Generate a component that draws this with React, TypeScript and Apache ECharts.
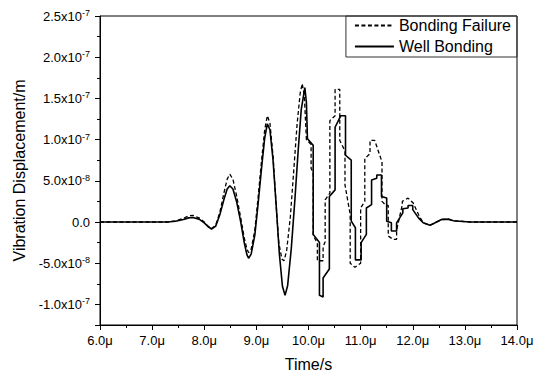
import React, { useEffect, useRef } from 'react';
import * as echarts from 'echarts';

// Values are in units of 1e-8 m; time in microseconds
const UNIT = 1e-8;

const seriesNames = ['Bonding Failure', 'Well Bonding'];

const wellTime = [
  6.0, 7.3, 7.45, 7.6, 7.7, 7.78, 7.9, 8.0, 8.07, 8.14, 8.22, 8.3, 8.38, 8.44, 8.49, 8.55, 8.62, 8.7,
  8.77, 8.82, 8.85, 8.9, 8.97, 9.03, 9.1, 9.16, 9.21, 9.26, 9.32, 9.38, 9.44, 9.5, 9.55, 9.6, 9.67,
  9.74, 9.8, 9.86, 9.93, 9.96, 9.98, 10.09, 10.09, 10.21, 10.21, 10.28, 10.28, 10.4, 10.4, 10.51,
  10.51, 10.62, 10.71, 10.71, 10.82, 10.82, 10.9, 10.9, 11.01, 11.01, 11.11, 11.11, 11.21, 11.21,
  11.31, 11.31, 11.4, 11.4, 11.5, 11.5, 11.59, 11.59, 11.69, 11.69, 11.81, 11.81, 11.91, 11.91,
  12.0, 12.0, 12.11, 12.2, 12.33, 12.43, 12.55, 12.68, 12.78, 12.9, 13.1, 14.0,
];
const wellValue = [
  0, 0, 0.1, 0.3, 0.5, 0.55, 0.35, -0.1, -0.55, -0.85, -0.5, 0.9, 2.8, 4.0, 4.4, 4.0, 2.5, 0.0,
  -2.6, -4.0, -4.4, -3.9, -1.6, 2.0, 6.6, 10.2, 11.9, 11.2, 7.5, 2.0, -3.8, -7.8, -8.9, -7.7, -3.2,
  2.8, 8.5, 13.6, 16.3, 14.5, 10.1, 9.3, -1.5, -2.5, -8.9, -9.1, -6.8, -5.7, 3.1, 3.9,
  11.5, 12.9, 12.9, 8.1, 7.5, 0.1, -0.7, -4.6, -4.6, -2.5, -1.5, 1.7, 2.1, 5.1,
  5.3, 5.7, 5.7, 3.1, 2.9, 0.1, -0.1, -1.1, -1.1, -0.1, 1.1, 1.6, 1.7, 2.0,
  2.0, 1.5, 0.5, -0.1, -0.4, -0.1, 0.3, 0.35, 0.15, 0.1, 0, 0,
];

const failTime = [
  6.0, 7.3, 7.45, 7.6, 7.7, 7.78, 7.9, 8.0, 8.07, 8.14, 8.22, 8.3, 8.38, 8.44, 8.49, 8.55, 8.62, 8.7,
  8.77, 8.82, 8.85, 8.9, 8.97, 9.03, 9.1, 9.16, 9.21, 9.26, 9.32, 9.38, 9.43, 9.49, 9.53, 9.58, 9.65,
  9.72, 9.78, 9.84, 9.88, 9.92, 9.96, 10.05, 10.05, 10.09, 10.09, 10.17, 10.17, 10.28, 10.28, 10.32,
  10.32, 10.41, 10.41, 10.51, 10.51, 10.6, 10.6, 10.7, 10.7, 10.8, 10.8, 10.89, 11.0, 11.0, 11.08,
  11.08, 11.18, 11.18, 11.27, 11.41, 11.41, 11.49, 11.53, 11.53, 11.62, 11.69, 11.69, 11.8, 11.8,
  11.91, 12.01, 12.11, 12.2, 12.33, 12.43, 12.55, 12.68, 12.78, 12.9, 13.1, 14.0,
];
const failValue = [
  0, 0, 0.15, 0.45, 0.75, 0.8, 0.5, 0.0, -0.5, -0.8, -0.4, 1.2, 3.6, 5.2, 5.8, 5.2, 3.2, 0.5,
  -2.0, -3.3, -3.7, -3.3, -1.0, 2.8, 7.5, 11.2, 12.9, 12.0, 8.0, 2.0, -2.5, -4.5, -4.7, -3.5, 0.5,
  6.5, 11.8, 15.6, 16.8, 15.3, 10.0, 9.4, 6.5, 6.0, -1.6, -2.6, -4.7, -4.7, -3.0, -2.4,
  2.7, 3.5, 12.3, 12.9, 16.1, 16.1, 9.9, 8.6, 4.5, 0.9, -5.0, -5.5, -5.0, 1.7, 2.5,
  7.7, 8.3, 9.9, 9.9, 7.3, 2.5, 2.0, 2.0, -1.7, -2.1, -2.1, -1.0, 2.1, 2.5,
  2.9, 2.3, 0.9, -0.1, -0.4, -0.1, 0.3, 0.35, 0.15, 0.1, 0, 0,
];

const FONT = '"Liberation Sans", Arial, Helvetica, sans-serif';

function yLabel(v: number): string {
  if (Math.abs(v) < 1e-12) return '0.0';
  const exp = Math.floor(Math.log10(Math.abs(v)) + 1e-9);
  const m = v / Math.pow(10, exp);
  return `${m.toFixed(1)}x10{sup|${exp}}`;
}

function pairs(t: number[], v: number[]) {
  return t.map((x, i) => [x, v[i] * UNIT]);
}

export default function App() {
  const ref = useRef<HTMLDivElement>(null);
  useEffect(() => {
    document.body.style.margin = '0';
    const chart = echarts.init(ref.current!, undefined, { renderer: 'svg' });
    chart.setOption({
      animation: false,
      backgroundColor: '#fff',
      textStyle: { fontFamily: FONT },
      grid: { left: 100, right: 22, top: 16, bottom: 49, show: true, borderColor: '#000', borderWidth: 1 },
      legend: {
        right: 22,
        top: 16,
        orient: 'vertical',
        data: seriesNames,
        itemWidth: 39,
        itemHeight: 12,
        itemGap: 4,
        padding: [1, 6, 2, 8],
        borderColor: '#333',
        borderWidth: 1,
        itemStyle: { opacity: 0 },
        textStyle: { fontSize: 16, color: '#000', fontFamily: FONT, lineHeight: 17 },
      },
      xAxis: {
        type: 'value',
        min: 6,
        max: 14,
        interval: 1,
        name: 'Time/s',
        nameLocation: 'middle',
        nameGap: 31,
        nameTextStyle: { fontSize: 16, color: '#000', fontFamily: FONT },
        axisLine: { show: true, onZero: false, lineStyle: { color: '#000', width: 1 } },
        axisTick: { show: true, inside: false, length: 5, lineStyle: { color: '#000' } },
        minorTick: { show: true, splitNumber: 2, length: 3, lineStyle: { color: '#000' } },
        splitLine: { show: false },
        axisLabel: {
          color: '#000',
          fontSize: 13,
          fontFamily: FONT,
          margin: 9,
          formatter: (v: number) => v.toFixed(1) + 'μ',
        },
      },
      yAxis: {
        type: 'value',
        min: -1.25e-7,
        max: 2.5e-7,
        splitNumber: 7,
        name: 'Vibration Displacement/m',
        nameLocation: 'middle',
        nameGap: 70,
        nameTextStyle: { fontSize: 16, color: '#000', fontFamily: FONT },
        axisLine: { show: true, onZero: false, lineStyle: { color: '#000', width: 1 } },
        axisTick: { show: true, inside: false, length: 5, lineStyle: { color: '#000' } },
        minorTick: { show: true, splitNumber: 2, length: 3, lineStyle: { color: '#000' } },
        splitLine: { show: false },
        axisLabel: {
          color: '#000',
          fontSize: 13,
          fontFamily: FONT,
          margin: 10,
          showMinLabel: false,
          formatter: yLabel,
          rich: {
            sup: { fontSize: 9, verticalAlign: 'top', color: '#000', fontFamily: FONT, padding: [0, 0, 6, 0] },
          },
        },
      },
      series: [
        {
          name: seriesNames[0],
          type: 'line',
          data: pairs(failTime, failValue),
          showSymbol: false,
          symbol: 'none',
          color: '#000',
          lineStyle: { color: '#000', width: 1.3, type: [4, 2.5] },
        },
        {
          name: seriesNames[1],
          type: 'line',
          data: pairs(wellTime, wellValue),
          showSymbol: false,
          symbol: 'none',
          color: '#000',
          lineStyle: { color: '#000', width: 1.6, type: 'solid' },
        },
      ],
    });
    return () => chart.dispose();
  }, []);
  return <div ref={ref} style={{ width: 539, height: 377 }} />;
}
